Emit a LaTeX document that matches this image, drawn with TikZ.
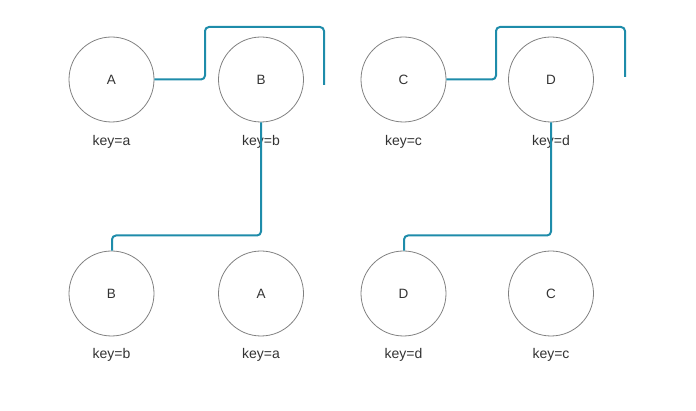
\documentclass[tikz,border=0pt]{standalone}
\usepackage{fontspec}
\setmainfont{Liberation Sans}
\definecolor{linkcol}{RGB}{30,140,170}
\definecolor{circcol}{RGB}{128,128,128}
\definecolor{txtcol}{RGB}{51,51,51}
\begin{document}
\begin{tikzpicture}[x=1pt,y=-1pt,
  treenode/.style={circle,draw=circcol,line width=0.8pt,minimum size=85pt,inner sep=0pt,text=txtcol,font=\fontsize{13.5}{15}\selectfont},
  keylabel/.style={text=txtcol,font=\fontsize{14}{16}\selectfont,inner sep=0pt},
  conn/.style={draw=linkcol,line width=2pt,rounded corners=4pt}]
\useasboundingbox (0,0) rectangle (696,411);
% top row
\node[treenode] (A1) at (111.5,79.5) {A};
\node[treenode] (B1) at (261,79.5) {B};
\node[treenode] (C1) at (403.5,79.5) {C};
\node[treenode] (D1) at (551,79.5) {D};
\node[keylabel] (kA1) at (111.5,141.5) {key=a};
\node[keylabel] (kB1) at (261,141.5) {key=b};
\node[keylabel] (kC1) at (403.5,141.5) {key=c};
\node[keylabel] (kD1) at (551,141.5) {key=d};
% bottom row
\node[treenode] (B2) at (111.5,293.5) {B};
\node[treenode] (A2) at (261,293.5) {A};
\node[treenode] (D2) at (403.5,293.5) {D};
\node[treenode] (C2) at (551,293.5) {C};
\node[keylabel] (kB2) at (111.5,355) {key=b};
\node[keylabel] (kA2) at (261,355) {key=a};
\node[keylabel] (kD2) at (403.5,355) {key=d};
\node[keylabel] (kC2) at (551,355) {key=c};
% free ends
\coordinate (endL) at (324,85);
\coordinate (endR) at (625,77);
% connectors
\draw[conn] (A1.east) -- (205,79.5) -- (205,27) -- (324,27) -- (endL);
\draw[conn] (C1.east) -- (496,79.5) -- (496,27) -- (625,27) -- (endR);
\draw[conn] (B1.south) -- (261,235.5) -- (112,235.5) -- (B2.north -| 112,0);
\draw[conn] (D1.south) -- (551,235.5) -- (404,235.5) -- (D2.north -| 404,0);
\end{tikzpicture}
\end{document}
